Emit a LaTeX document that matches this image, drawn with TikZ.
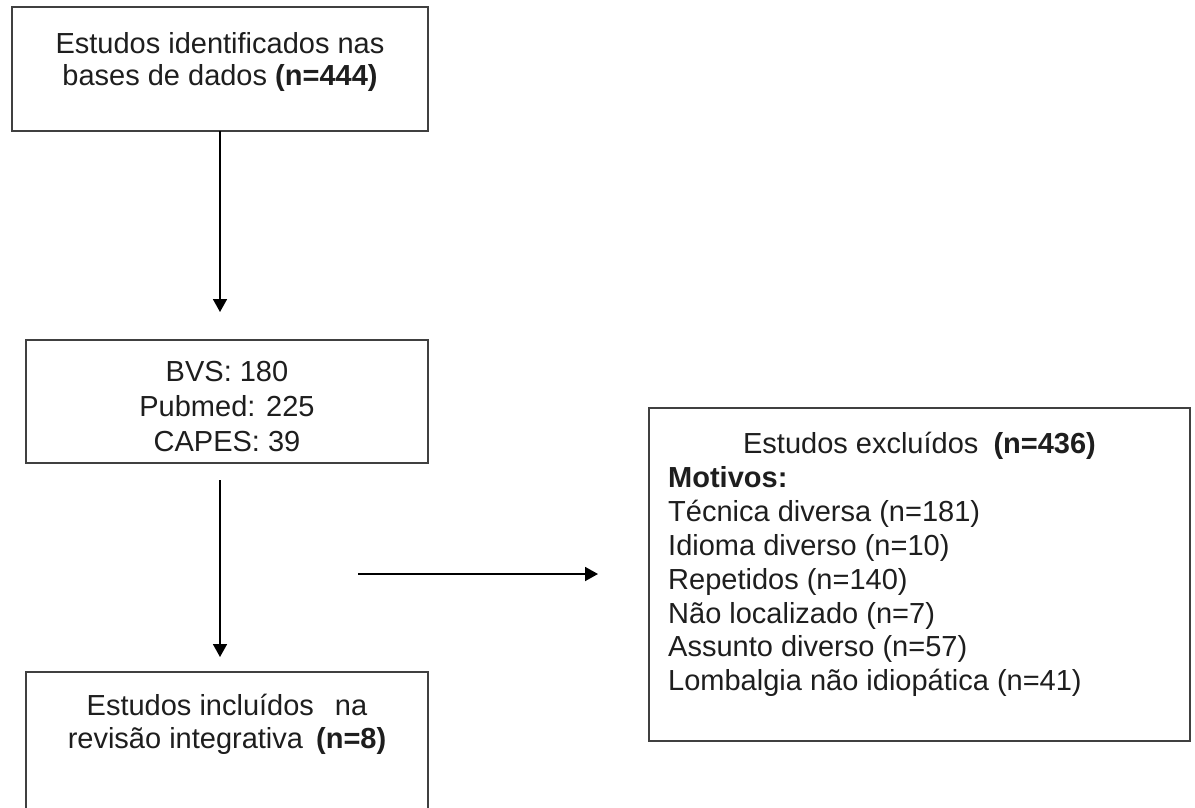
\documentclass[tikz,border=0pt]{standalone}
\usepackage{fontspec}
\setmainfont{Liberation Sans}
\usetikzlibrary{arrows.meta}
\definecolor{boxline}{HTML}{404040}
\definecolor{txt}{HTML}{1E1E1E}
\tikzset{
  boxnode/.style={draw=boxline, line width=2pt, anchor=north west, inner sep=0pt, outer sep=0pt, fill=white},
  linec/.style={font=\fontsize{29}{34}\selectfont, text=txt, inner sep=0pt, anchor=base},
  linel/.style={linec, anchor=base west},
  flow/.style={draw=black, line width=1.8pt, -{Triangle[length=13pt,width=14pt]}}
}
\begin{document}
\begin{tikzpicture}[x=1pt,y=-1pt]
\path[use as bounding box] (0,0) rectangle (1195,807);
\clip (0,0) rectangle (1195,807);
% boxes
\node[boxnode, minimum width=416pt, minimum height=124pt] (box1) at (12,7) {};
\node[boxnode, minimum width=402pt, minimum height=123pt] (box2) at (26,340) {};
\node[boxnode, minimum width=402pt, minimum height=180pt] (box3) at (26,672) {};
\node[boxnode, minimum width=541pt, minimum height=333pt] (box4) at (649,408) {};
% texts box1
\node[linec] (t11) at (220,53) {Estudos identificados nas};
\node[linec] (t12) at (220,85) {bases de dados \textbf{(n=444)}};
% texts box2
\node[linec] (t21) at (227,381.5) {BVS: 180};
\node[linec] (t22) at (227,416) {Pubmed: 225};
\node[linec] (t23) at (227,451.5) {CAPES: 39};
% texts box3
\node[linec] (t31) at (227,715) {Estudos incluídos\hspace{13pt} na};
\node[linec] (t32) at (227,748) {revisão integrativa\hspace{5pt} \textbf{(n=8)}};
% texts box4
\node[linec] (t40) at (919.5,453) {Estudos excluídos\hspace{7pt} \textbf{(n=436)}};
\node[linel] (t41) at (668,487) {\textbf{Motivos:}};
\node[linel] (t42) at (668,521) {Técnica diversa (n=181)};
\node[linel] (t43) at (668,555) {Idioma diverso (n=10)};
\node[linel] (t44) at (668,589) {Repetidos (n=140)};
\node[linel] (t45) at (668,623) {Não localizado (n=7)};
\node[linel] (t46) at (668,656) {Assunto diverso (n=57)};
\node[linel] (t47) at (668,690) {Lombalgia não idiopática (n=41)};
% connectors
\coordinate (h1) at (358,574);
\coordinate (h2) at (598,574);
\draw[flow, shorten >=28pt] (box1.south) -- (box1.south |- box2.north);
\draw[flow, shorten <=17pt, shorten >=15pt] (box1.south |- box2.south) -- (box1.south |- box3.north);
\draw[flow] (h1) -- (h2);
\end{tikzpicture}
\end{document}
